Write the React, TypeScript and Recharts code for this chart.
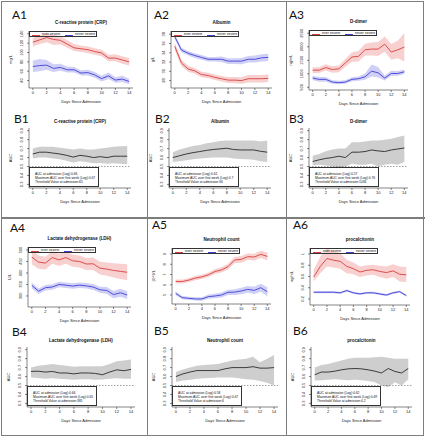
import { Area, ComposedChart, Line, ReferenceLine, XAxis, YAxis } from 'recharts'

// days since admission, shared by every panel
const days = [0, 1, 2, 3, 4, 5, 6, 7, 8, 9, 10, 11, 12, 13, 14]
const dayTicks = [0, 2, 4, 6, 8, 10, 12, 14]

// A1 CRP
const crpEver = [122, 127, 132, 128, 126, 118, 110, 108, 106, 102, 99, 88, 88, 84, 80]
const crpEverLow = [113, 118, 122, 116, 117, 110, 103, 101, 99, 95, 92, 81, 81, 76, 72]
const crpEverHigh = [131, 136, 141, 138, 135, 126, 118, 115, 113, 109, 106, 95, 96, 92, 88]
const crpNever = [70, 72, 73, 66, 68, 63, 63, 56, 57, 52, 44, 50, 41, 43, 38]
const crpNeverLow = [58, 60, 63, 58, 61, 57, 57, 51, 51, 46, 38, 43, 35, 37, 32]
const crpNeverHigh = [83, 86, 84, 75, 76, 70, 69, 62, 63, 58, 50, 57, 47, 50, 44]

// A2 albumin
const albEver = [35.4, 31.8, 30.5, 30.1, 29.3, 29.1, 28.7, 28.4, 28.1, 28.1, 28.0, 28.4, 28.4, 28.4, 28.5]
const albEverLow = [34.6, 31.1, 29.9, 29.5, 28.7, 28.5, 28.1, 27.8, 27.5, 27.4, 27.3, 27.6, 27.6, 27.6, 27.7]
const albEverHigh = [36.2, 32.5, 31.2, 30.7, 29.9, 29.7, 29.3, 29.0, 28.8, 28.8, 28.7, 29.2, 29.2, 29.2, 29.3]
const albNever = [37.5, 34.6, 33.9, 33.4, 33.0, 32.6, 32.6, 32.6, 32.2, 32.2, 32.2, 32.6, 32.6, 32.9, 33.0]
const albNeverLow = [37.0, 34.1, 33.4, 32.9, 32.5, 32.1, 32.1, 32.0, 31.6, 31.6, 31.5, 31.9, 31.9, 32.1, 32.2]
const albNeverHigh = [38.0, 35.1, 34.4, 33.9, 33.5, 33.1, 33.1, 33.2, 32.8, 32.8, 32.9, 33.3, 33.4, 33.7, 33.8]

// A3 D-dimer
const ddEver = [1134, 1134, 1232, 1159, 1183, 1402, 1622, 1646, 1890, 1915, 1915, 2098, 1805, 1890, 1988]
const ddEverLow = [1030, 1030, 1120, 1040, 1060, 1260, 1450, 1460, 1680, 1680, 1660, 1820, 1520, 1580, 1460]
const ddEverHigh = [1240, 1240, 1350, 1280, 1310, 1550, 1800, 1840, 2110, 2160, 2180, 2380, 2100, 2220, 2500]
const ddNever = [841, 793, 793, 695, 671, 695, 793, 817, 890, 1098, 1037, 841, 1012, 1012, 1073]
const ddNeverLow = [760, 710, 710, 630, 610, 630, 720, 740, 780, 900, 860, 750, 920, 930, 990]
const ddNeverHigh = [930, 880, 880, 760, 740, 760, 870, 900, 1010, 1340, 1250, 940, 1110, 1100, 1160]

// A4 LDH
const ldhEver = [469, 447, 443, 467, 457, 467, 453, 450, 439, 440, 421, 417, 411, 407, 403]
const ldhEverLow = [438, 418, 415, 440, 430, 440, 427, 424, 413, 413, 393, 388, 380, 374, 368]
const ldhEverHigh = [500, 476, 471, 494, 484, 494, 479, 476, 465, 467, 449, 446, 442, 440, 438]
const ldhNever = [346, 321, 336, 339, 350, 347, 343, 347, 344, 339, 327, 324, 306, 314, 304]
const ldhNeverLow = [333, 309, 324, 327, 338, 335, 331, 335, 332, 326, 314, 309, 290, 297, 287]
const ldhNeverHigh = [359, 333, 348, 351, 362, 359, 355, 359, 356, 352, 340, 339, 322, 331, 321]

// A5 neutrophils
const neuEver = [6.32, 6.32, 6.45, 6.65, 6.77, 6.97, 7.29, 7.45, 7.77, 8.42, 8.48, 8.74, 8.71, 8.97, 8.77]
const neuEverLow = [6.12, 6.13, 6.25, 6.45, 6.56, 6.75, 7.05, 7.2, 7.5, 8.12, 8.16, 8.42, 8.38, 8.62, 8.4]
const neuEverHigh = [6.52, 6.51, 6.65, 6.85, 6.98, 7.19, 7.53, 7.7, 8.04, 8.72, 8.8, 9.06, 9.04, 9.32, 9.14]
const neuNever = [5.16, 4.74, 4.68, 4.61, 4.61, 4.84, 4.9, 5.0, 5.26, 5.28, 5.39, 5.55, 5.45, 5.71, 5.32]
const neuNeverLow = [4.98, 4.58, 4.52, 4.45, 4.44, 4.64, 4.68, 4.76, 5.0, 5.0, 5.08, 5.22, 5.1, 5.32, 4.88]
const neuNeverHigh = [5.34, 4.9, 4.84, 4.77, 4.78, 5.04, 5.12, 5.24, 5.52, 5.56, 5.7, 5.88, 5.8, 6.1, 5.76]

// A6 procalcitonin
const pctEver = [0.59, 0.78, 0.92, 0.89, 0.87, 0.78, 0.74, 0.68, 0.71, 0.72, 0.69, 0.67, 0.7, 0.64, 0.63]
const pctEverLow = [0.51, 0.66, 0.78, 0.76, 0.74, 0.66, 0.64, 0.59, 0.62, 0.63, 0.59, 0.56, 0.59, 0.51, 0.5]
const pctEverHigh = [0.72, 0.95, 1.1, 1.05, 1.02, 0.9, 0.85, 0.78, 0.8, 0.81, 0.79, 0.78, 0.82, 0.78, 0.77]
const pctNever = [0.32, 0.32, 0.32, 0.32, 0.31, 0.35, 0.31, 0.29, 0.31, 0.31, 0.29, 0.27, 0.31, 0.33, 0.26]
const pctNeverLow = [0.3, 0.3, 0.3, 0.3, 0.29, 0.33, 0.29, 0.27, 0.29, 0.29, 0.27, 0.25, 0.29, 0.31, 0.24]
const pctNeverHigh = [0.34, 0.34, 0.34, 0.34, 0.33, 0.37, 0.33, 0.31, 0.33, 0.33, 0.31, 0.29, 0.33, 0.35, 0.28]

// B panels: AUC by day
const aucCrp = [0.64, 0.66, 0.66, 0.65, 0.64, 0.625, 0.605, 0.625, 0.615, 0.6, 0.61, 0.6, 0.615, 0.615, 0.615]
const aucCrpLow = [0.59, 0.6, 0.6, 0.59, 0.58, 0.565, 0.545, 0.56, 0.55, 0.535, 0.54, 0.53, 0.535, 0.53, 0.525]
const aucCrpHigh = [0.7, 0.72, 0.72, 0.72, 0.71, 0.7, 0.69, 0.7, 0.69, 0.69, 0.7, 0.71, 0.72, 0.725, 0.73]
const aucAlb = [0.6, 0.62, 0.64, 0.655, 0.667, 0.68, 0.69, 0.697, 0.704, 0.69, 0.685, 0.685, 0.685, 0.67, 0.66]
const aucAlbLow = [0.55, 0.56, 0.57, 0.58, 0.59, 0.595, 0.6, 0.6, 0.6, 0.59, 0.585, 0.58, 0.575, 0.56, 0.55]
const aucAlbHigh = [0.66, 0.69, 0.71, 0.73, 0.74, 0.76, 0.77, 0.785, 0.79, 0.79, 0.79, 0.79, 0.79, 0.78, 0.79]
const aucDd = [0.556, 0.575, 0.59, 0.6, 0.615, 0.6, 0.66, 0.66, 0.667, 0.685, 0.674, 0.667, 0.685, 0.696, 0.707]
const aucDdLow = [0.51, 0.52, 0.51, 0.5, 0.49, 0.5, 0.53, 0.52, 0.52, 0.53, 0.5, 0.52, 0.53, 0.52, 0.55]
const aucDdHigh = [0.62, 0.64, 0.67, 0.69, 0.7, 0.7, 0.77, 0.77, 0.78, 0.79, 0.79, 0.8, 0.81, 0.83, 0.845]
const aucLdh = [0.657, 0.66, 0.65, 0.657, 0.64, 0.64, 0.63, 0.64, 0.64, 0.635, 0.62, 0.65, 0.675, 0.665, 0.68]
const aucLdhLow = [0.59, 0.585, 0.575, 0.58, 0.575, 0.57, 0.565, 0.57, 0.57, 0.565, 0.567, 0.575, 0.58, 0.575, 0.575]
const aucLdhHigh = [0.7, 0.72, 0.73, 0.74, 0.73, 0.72, 0.71, 0.715, 0.715, 0.715, 0.716, 0.74, 0.77, 0.78, 0.79]
const aucNeu = [0.6, 0.63, 0.65, 0.667, 0.667, 0.667, 0.667, 0.686, 0.7, 0.7, 0.7, 0.71, 0.694, 0.694, 0.7]
const aucNeuLow = [0.54, 0.555, 0.565, 0.575, 0.58, 0.585, 0.59, 0.59, 0.59, 0.58, 0.57, 0.565, 0.55, 0.53, 0.5]
const aucNeuHigh = [0.65, 0.68, 0.7, 0.72, 0.73, 0.735, 0.74, 0.76, 0.78, 0.79, 0.8, 0.82, 0.76, 0.8, 0.84]
const aucPct = [0.62, 0.65, 0.65, 0.66, 0.675, 0.686, 0.69, 0.686, 0.675, 0.66, 0.64, 0.69, 0.657, 0.64, 0.69]
const aucPctLow = [0.555, 0.56, 0.565, 0.57, 0.565, 0.56, 0.565, 0.56, 0.55, 0.535, 0.5, 0.48, 0.535, 0.5, 0.57]
const aucPctHigh = [0.7, 0.73, 0.74, 0.76, 0.78, 0.8, 0.81, 0.81, 0.81, 0.815, 0.82, 0.81, 0.8, 0.8, 0.8]

const aucTicks = [0.3, 0.4, 0.5, 0.6, 0.7, 0.8, 0.9]

const RED = '#d8403c'
const RED_BAND = '#f3a9a9'
const BLUE = '#3f3fd6'
const BLUE_BAND = '#a9a9f0'
const AXIS = '#333'
const FONT = '"Liberation Sans", Arial, sans-serif'
const X_DOMAIN: [number, number] = [-0.56, 14.56]
const Y_AXIS_W = 22
const X_AXIS_H = 18

type Box = { left: number; top: number; width: number; height: number }

function VerticalTick(props: any) {
  const { x, y, payload } = props
  return (
    <text x={x} y={y} transform={`rotate(-90 ${x} ${y})`} textAnchor="middle" fontSize={4} fill="#222" fontFamily={FONT}>
      {payload.value}
    </text>
  )
}

function Axes({ yDomain, yTicks, yLabel }: { yDomain: [number, number]; yTicks: number[]; yLabel: string }) {
  return (
    <>
      <XAxis
        xAxisId="b"
        type="number"
        dataKey="day"
        domain={X_DOMAIN}
        ticks={dayTicks}
        interval={0}
        allowDataOverflow
        height={X_AXIS_H}
        tickSize={2}
        tickMargin={1}
        stroke={AXIS}
        strokeWidth={0.6}
        tick={{ fontSize: 4, fill: '#222', fontFamily: FONT }}
        label={{ value: 'Days Since Admission', position: 'insideBottom', offset: 3, fontSize: 4, fill: '#222', fontFamily: FONT }}
      />
      <XAxis xAxisId="t" orientation="top" type="number" dataKey="day" domain={X_DOMAIN} allowDataOverflow height={0} tick={false} tickLine={false} stroke={AXIS} strokeWidth={0.6} />
      <YAxis
        yAxisId="l"
        type="number"
        domain={yDomain}
        ticks={yTicks}
        interval={0}
        allowDataOverflow
        width={Y_AXIS_W}
        tickSize={2}
        tickMargin={4}
        stroke={AXIS}
        strokeWidth={0.6}
        tick={<VerticalTick />}
        label={{ value: yLabel, angle: -90, position: 'insideLeft', offset: 4, fontSize: 4, fill: '#222', fontFamily: FONT, style: { textAnchor: 'middle' } }}
      />
      <YAxis yAxisId="r" orientation="right" domain={yDomain} allowDataOverflow width={0} tick={false} tickLine={false} stroke={AXIS} strokeWidth={0.6} />
    </>
  )
}

function PanelTag({ text, x, y }: { text: string; x: number; y: number }) {
  return (
    <div style={{ position: 'absolute', left: x, top: y, fontFamily: 'Lato, "Open Sans", sans-serif', fontSize: 12, lineHeight: '12px', color: '#111' }}>
      {text}
    </div>
  )
}

function Title({ text, box, gap }: { text: string; box: Box; gap: number }) {
  return (
    <div style={{ position: 'absolute', left: box.left, top: box.top - gap, width: box.width, textAlign: 'center', fontFamily: FONT, fontSize: 4.5, lineHeight: '5px', fontWeight: 'bold', color: '#111' }}>
      {text}
    </div>
  )
}

interface TrendProps {
  box: Box
  title: string
  yLabel: string
  yDomain: [number, number]
  yTicks: number[]
  ever: number[]
  everLow: number[]
  everHigh: number[]
  never: number[]
  neverLow: number[]
  neverHigh: number[]
}

function TrendPanel(p: TrendProps) {
  const rows = days.map((day, i) => ({
    day,
    ever: p.ever[i],
    everBand: [p.everLow[i], p.everHigh[i]],
    never: p.never[i],
    neverBand: [p.neverLow[i], p.neverHigh[i]],
  }))
  const { box } = p
  return (
    <>
      <Title text={p.title} box={box} gap={11} />
      <div style={{ position: 'absolute', left: box.left - Y_AXIS_W, top: box.top - 1 }}>
        <ComposedChart width={box.width + Y_AXIS_W + 1} height={box.height + X_AXIS_H + 1} data={rows} margin={{ top: 1, right: 1, bottom: 0, left: 0 }}>
          {Axes({ yDomain: p.yDomain, yTicks: p.yTicks, yLabel: p.yLabel })}
          <Area xAxisId="b" yAxisId="l" type="linear" dataKey="everBand" stroke="none" fill={RED_BAND} fillOpacity={0.55} isAnimationActive={false} />
          <Area xAxisId="b" yAxisId="l" type="linear" dataKey="neverBand" stroke="none" fill={BLUE_BAND} fillOpacity={0.55} isAnimationActive={false} />
          <Line xAxisId="b" yAxisId="l" type="linear" dataKey="ever" stroke={RED} strokeWidth={0.9} dot={false} isAnimationActive={false} />
          <Line xAxisId="b" yAxisId="l" type="linear" dataKey="never" stroke={BLUE} strokeWidth={0.9} dot={false} isAnimationActive={false} />
        </ComposedChart>
      </div>
      <div style={{ position: 'absolute', left: box.left, top: box.top, width: 68, height: 6, border: `0.5px solid ${AXIS}`, boxSizing: 'border-box', fontFamily: FONT, fontSize: 3.5, lineHeight: '5px', color: '#111' }}>
        <span style={{ position: 'absolute', left: 2, top: 2.5, width: 8, height: 0.6, background: RED }} />
        <span style={{ position: 'absolute', left: 12, top: 0 }}>ever severe</span>
        <span style={{ position: 'absolute', left: 35, top: 2.5, width: 8, height: 0.6, background: BLUE }} />
        <span style={{ position: 'absolute', left: 45, top: 0 }}>never severe</span>
      </div>
    </>
  )
}

interface AucProps {
  box: Box
  title: string
  auc: number[]
  low: number[]
  high: number[]
  notes: string[]
}

const AUC_DOMAIN: [number, number] = [0.26, 0.93]

function AucPanel(p: AucProps) {
  const rows = days.map((day, i) => ({ day, auc: p.auc[i], band: [p.low[i], p.high[i]] }))
  const { box } = p
  const halfY = box.top + ((AUC_DOMAIN[1] - 0.5) / (AUC_DOMAIN[1] - AUC_DOMAIN[0])) * box.height
  return (
    <>
      <Title text={p.title} box={box} gap={9} />
      <div style={{ position: 'absolute', left: box.left - Y_AXIS_W, top: box.top - 1 }}>
        <ComposedChart width={box.width + Y_AXIS_W + 1} height={box.height + X_AXIS_H + 1} data={rows} margin={{ top: 1, right: 1, bottom: 0, left: 0 }}>
          {Axes({ yDomain: AUC_DOMAIN, yTicks: aucTicks, yLabel: 'AUC' })}
          <Area xAxisId="b" yAxisId="l" type="linear" dataKey="band" stroke="none" fill="#c9c9c9" fillOpacity={0.9} isAnimationActive={false} />
          <ReferenceLine xAxisId="b" yAxisId="l" y={0.5} stroke="#444" strokeWidth={0.5} strokeDasharray="1.5 1.5" />
          <Line xAxisId="b" yAxisId="l" type="linear" dataKey="auc" stroke="#2a2a2a" strokeWidth={0.9} dot={false} isAnimationActive={false} />
        </ComposedChart>
      </div>
      <div style={{ position: 'absolute', left: box.left, top: halfY + 0.5, width: 70, height: box.top + box.height - halfY - 1.5, border: `0.5px solid ${AXIS}`, boxSizing: 'border-box', background: '#fff', fontFamily: FONT, fontSize: 3.3, lineHeight: '4.2px', color: '#111', padding: '4px 0 0 5px' }}>
        {p.notes.map((n) => (
          <div key={n} style={{ whiteSpace: 'nowrap' }}>{n}</div>
        ))}
      </div>
    </>
  )
}

const line = (style: React.CSSProperties) => <div style={{ position: 'absolute', background: '#7d7d7d', ...style }} />

export default function App() {
  return (
    <div style={{ position: 'absolute', left: 0, top: 0, width: 426, height: 440, background: '#fff', overflow: 'hidden' }}>
      <div style={{ position: 'absolute', left: 1, top: 1, width: 423, height: 435, border: '1.5px solid #7d7d7d', boxSizing: 'border-box' }} />
      {line({ left: 1, top: 217, width: 424, height: 1.5 })}
      {line({ left: 146.5, top: 1, width: 1.5, height: 435 })}
      {line({ left: 285.5, top: 1, width: 1.5, height: 435 })}

      <PanelTag text="A1" x={12} y={9} />
      <PanelTag text="A2" x={154} y={9} />
      <PanelTag text="A3" x={289} y={9} />
      <PanelTag text="B1" x={14} y={113} />
      <PanelTag text="B2" x={155} y={113} />
      <PanelTag text="B3" x={289} y={113} />
      <PanelTag text="A4" x={10} y={222} />
      <PanelTag text="A5" x={152} y={219} />
      <PanelTag text="A6" x={293} y={219} />
      <PanelTag text="B4" x={12} y={326} />
      <PanelTag text="B5" x={154} y={325} />
      <PanelTag text="B6" x={293} y={325} />

      <TrendPanel box={{ left: 29, top: 31, width: 104, height: 57 }} title="C-reactive protein (CRP)" yLabel="mg/L" yDomain={[24, 146]} yTicks={[40, 60, 80, 100, 120, 140]}
        ever={crpEver} everLow={crpEverLow} everHigh={crpEverHigh} never={crpNever} neverLow={crpNeverLow} neverHigh={crpNeverHigh} />
      <TrendPanel box={{ left: 171, top: 31, width: 101, height: 57 }} title="Albumin" yLabel="g/L" yDomain={[26.4, 38.7]} yTicks={[28, 30, 32, 34, 36, 38]}
        ever={albEver} everLow={albEverLow} everHigh={albEverHigh} never={albNever} neverLow={albNeverLow} neverHigh={albNeverHigh} />
      <TrendPanel box={{ left: 309, top: 30, width: 99, height: 60 }} title="D-dimer" yLabel="ng/mL" yDomain={[400, 2622]} yTicks={[500, 1000, 1500, 2000, 2500]}
        ever={ddEver} everLow={ddEverLow} everHigh={ddEverHigh} never={ddNever} neverLow={ddNeverLow} neverHigh={ddNeverHigh} />

      <AucPanel box={{ left: 29, top: 128, width: 102, height: 60 }} title="C-reactive protein (CRP)" auc={aucCrp} low={aucCrpLow} high={aucCrpHigh}
        notes={['AUC at admission (Log):0.66', 'Maximum AUC over first week (Log):0.67', 'Threshold Value at admission:65']} />
      <AucPanel box={{ left: 169, top: 128, width: 102, height: 60 }} title="Albumin" auc={aucAlb} low={aucAlbLow} high={aucAlbHigh}
        notes={['AUC at admission (Log):0.61', 'Maximum AUC over first week (Log):0.7', 'Threshold Value at admission:36']} />
      <AucPanel box={{ left: 309, top: 128, width: 99, height: 60 }} title="D-dimer" auc={aucDd} low={aucDdLow} high={aucDdHigh}
        notes={['AUC at admission (Log):0.57', 'Maximum AUC over first week (Log):0.76', 'Threshold Value at admission:1036']} />

      <TrendPanel box={{ left: 28, top: 247, width: 103, height: 60 }} title="Lactate dehydrogenase (LDH)" yLabel="U/L" yDomain={[252, 513]} yTicks={[300, 350, 400, 450, 500]}
        ever={ldhEver} everLow={ldhEverLow} everHigh={ldhEverHigh} never={ldhNever} neverLow={ldhNeverLow} neverHigh={ldhNeverHigh} />
      <TrendPanel box={{ left: 172, top: 248, width: 99, height: 56 }} title="Neutrophil count" yLabel="10^9/L" yDomain={[4.12, 9.59]} yTicks={[5, 6, 7, 8, 9]}
        ever={neuEver} everLow={neuEverLow} everHigh={neuEverHigh} never={neuNever} neverLow={neuNeverLow} neverHigh={neuNeverHigh} />
      <TrendPanel box={{ left: 310, top: 248, width: 100, height: 57 }} title="procalcitonin" yLabel="ng/mL" yDomain={[0.093, 1.107]} yTicks={[0.2, 0.4, 0.6, 0.8, 1.0]}
        ever={pctEver} everLow={pctEverLow} everHigh={pctEverHigh} never={pctNever} neverLow={pctNeverLow} neverHigh={pctNeverHigh} />

      <AucPanel box={{ left: 27, top: 347, width: 108, height: 60 }} title="Lactate dehydrogenase (LDH)" auc={aucLdh} low={aucLdhLow} high={aucLdhHigh}
        notes={['AUC at admission (Log):0.64', 'Maximum AUC over first week (Log):0.65', 'Threshold Value at admission:381']} />
      <AucPanel box={{ left: 172, top: 347, width: 106, height: 60 }} title="Neutrophil count" auc={aucNeu} low={aucNeuLow} high={aucNeuHigh}
        notes={['AUC at admission (Log):0.58', 'Maximum AUC over first week (Log):0.67', 'Threshold Value at admission:6']} />
      <AucPanel box={{ left: 311, top: 347, width: 101, height: 60 }} title="procalcitonin" auc={aucPct} low={aucPctLow} high={aucPctHigh}
        notes={['AUC at admission (Log):0.62', 'Maximum AUC over first week (Log):0.69', 'Threshold Value at admission:0.2']} />
    </div>
  )
}
